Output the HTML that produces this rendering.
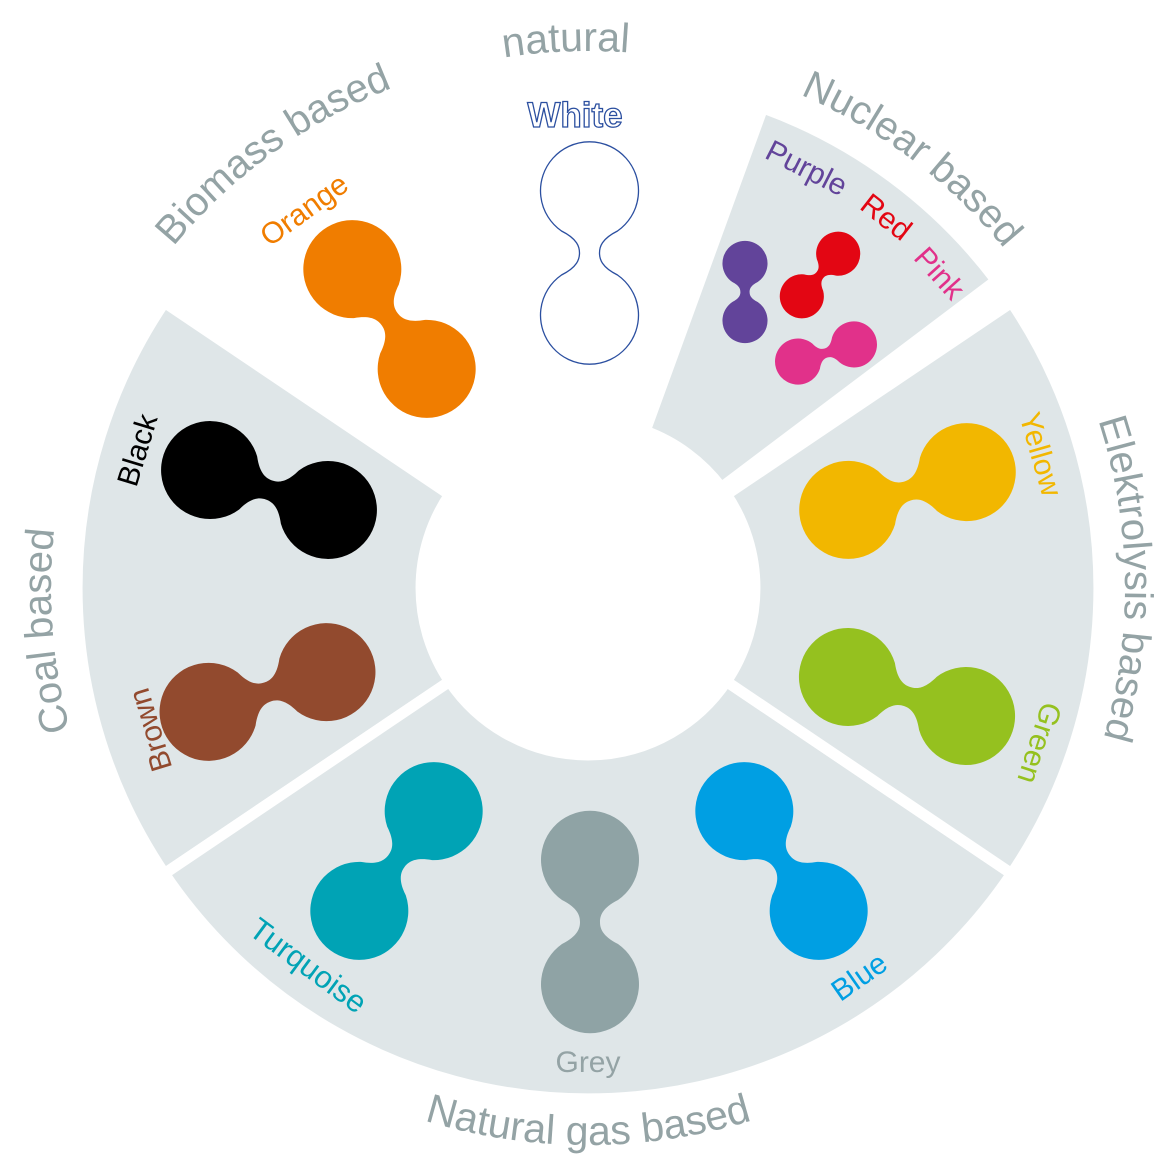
<!DOCTYPE html>
<html><head><meta charset="utf-8"><style>
html,body{margin:0;padding:0;background:#fff}
svg{display:block}
text{font-family:"Liberation Sans",sans-serif}
</style></head><body>
<svg width="1176" height="1176" viewBox="0 0 1176 1176" xmlns="http://www.w3.org/2000/svg">
<defs>
<path id="db" d="M-28,-22 A49,49 0 1 1 28,-22 C12,-14 10,-6 10,0 C10,6 12,14 28,22 A49,49 0 1 1 -28,22 C-12,14 -10,6 -10,0 C-10,-6 -12,-14 -28,-22 Z"/>
<path id="cw" d="M588,1125 A537,537 0 1 1 588,51 A537,537 0 1 1 588,1125"/>
<path id="ccw" d="M588,31 A557,557 0 1 0 588,1145 A557,557 0 1 0 588,31"/>
</defs>
<g fill="#dfe6e8" stroke="#fff" stroke-width="11">
<path d="M164.4,302.3 A511,511 0 0 0 164.4,873.7 L449.6,681.4 A167,167 0 0 1 449.6,494.6 Z"/>
<path d="M1011.6,873.7 A511,511 0 0 1 164.4,873.7 L449.6,681.4 A167,167 0 0 0 726.4,681.4 Z"/>
<path d="M1011.6,302.3 A511,511 0 0 1 1011.6,873.7 L726.4,681.4 A167,167 0 0 0 726.4,494.6 Z"/>
<path d="M762.8,107.8 A511,511 0 0 1 996.1,280.5 L721.4,487.5 A167,167 0 0 0 645.1,431.1 Z"/>
</g>
<use href="#db" transform="translate(589.5,253)" fill="#fff" stroke="#2b4fa0" stroke-width="1.3"/>
<use href="#db" transform="translate(389.5,319) rotate(-36.7)" fill="#f07d00"/>
<use href="#db" transform="translate(269,490) rotate(-71.3)" fill="#000"/>
<use href="#db" transform="translate(267.5,692) rotate(71.4)" fill="#924a2e"/>
<use href="#db" transform="translate(907.5,491) rotate(-107.7)" fill="#f2b700"/>
<use href="#db" transform="translate(907,696.5) rotate(-71.7)" fill="#95c11f"/>
<use href="#db" transform="translate(396.5,861) rotate(36.7)" fill="#00a3b5"/>
<use href="#db" transform="translate(590,922)" fill="#8fa3a5"/>
<use href="#db" transform="translate(781.5,861) rotate(-36.7)" fill="#009fe3"/>
<use href="#db" transform="translate(745,292) scale(0.46)" fill="#62449a"/>
<use href="#db" transform="translate(820,275) rotate(40.5) scale(0.45)" fill="#e30613"/>
<use href="#db" transform="translate(826,353) rotate(73) scale(0.47)" fill="#e1318a"/>
<g font-size="40" fill="#94a3a5" text-anchor="middle">
<text><textPath href="#cw" startOffset="801">Coal based</textPath></text>
<text><textPath href="#cw" startOffset="1350">Biomass based</textPath></text>
<text font-size="41"><textPath href="#cw" startOffset="1665">natural</textPath></text>
<text><textPath href="#cw" startOffset="2034">Nuclear based</textPath></text>
<text><textPath href="#cw" startOffset="2521">Elektrolysis based</textPath></text>
<text font-size="41"><textPath href="#ccw" startOffset="1750">Natural gas based</textPath></text>
</g>
<g font-size="30" text-anchor="middle">
<text x="575" y="127" font-weight="bold" font-size="35" fill="#fff" stroke="#2b4fa0" stroke-width="1.3">White</text>
<text transform="translate(310,218) rotate(-36)" fill="#f07d00">Orange</text>
<text transform="translate(802,177) rotate(27)" fill="#62449a">Purple</text>
<text transform="translate(880,225) rotate(38)" fill="#e30613">Red</text>
<text transform="translate(932,280) rotate(48)" fill="#e1318a">Pink</text>
<text transform="translate(147,453) rotate(-73)" fill="#000">Black</text>
<text transform="translate(160,727) rotate(-107)" fill="#924a2e">Brown</text>
<text transform="translate(1031,457) rotate(74)" fill="#f2b700">Yellow</text>
<text transform="translate(1030,740) rotate(108)" fill="#95c11f">Green</text>
<text transform="translate(302,974) rotate(36.5)" fill="#00a3b5" font-size="31">Turquoise</text>
<text x="588" y="1072" fill="#94a3a5">Grey</text>
<text transform="translate(865,985) rotate(-35)" fill="#009fe3">Blue</text>
</g>
</svg>
</body></html>
